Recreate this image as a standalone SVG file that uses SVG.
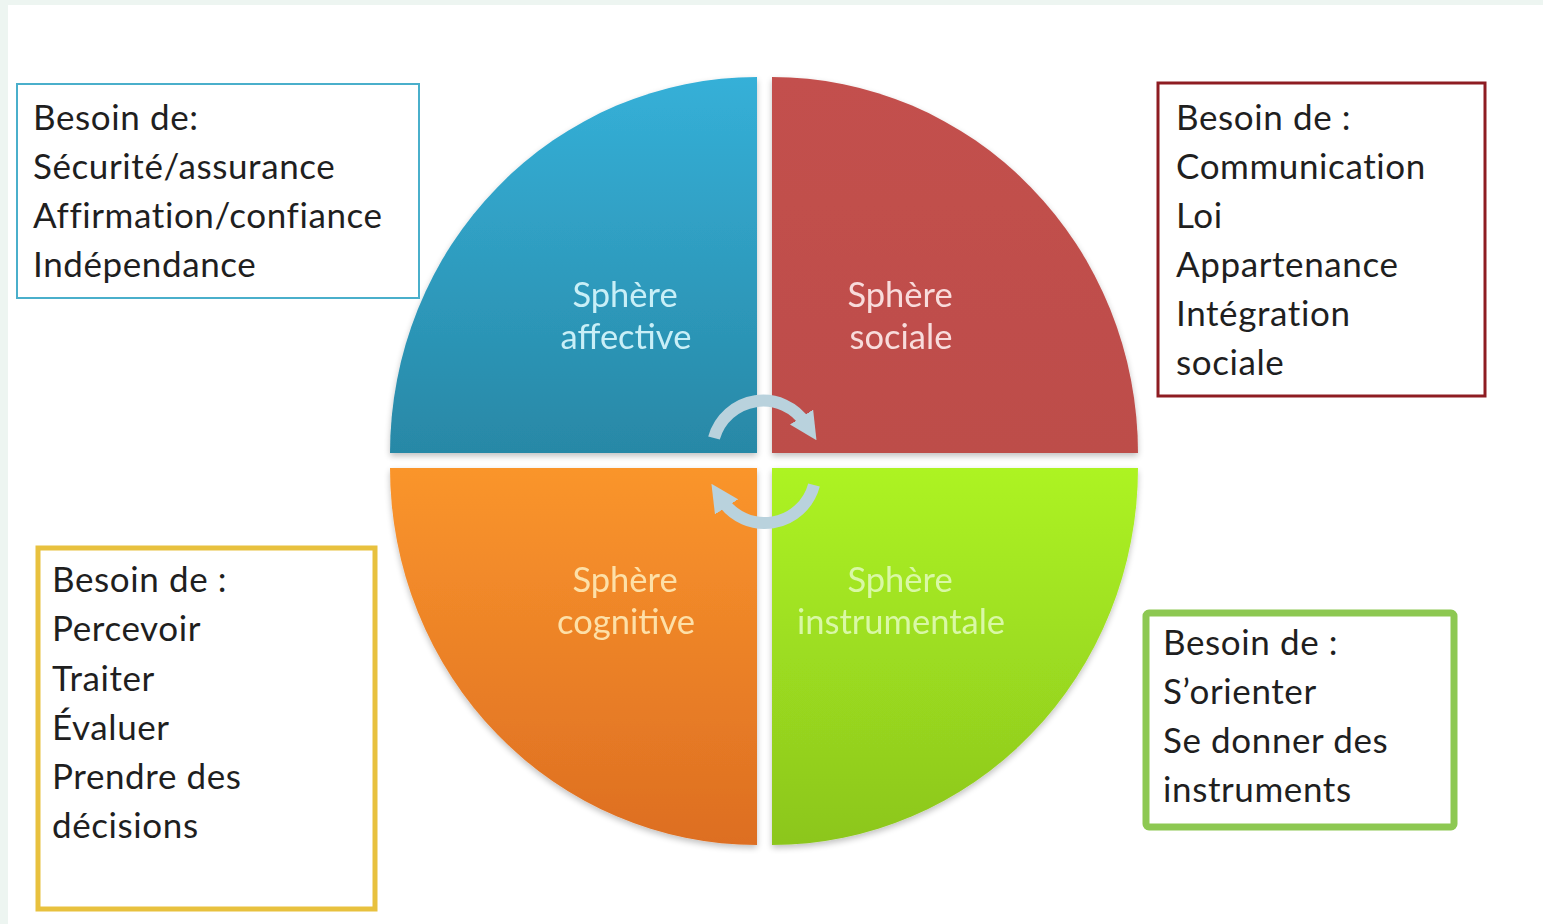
<svg xmlns="http://www.w3.org/2000/svg" width="1543" height="924" viewBox="0 0 1543 924">
<defs>
<linearGradient id="gBlue" x1="0" y1="0" x2="0" y2="1"><stop offset="0" stop-color="#35b0d8"/><stop offset="1" stop-color="#2888a6"/></linearGradient>
<linearGradient id="gRed" x1="0" y1="0" x2="0" y2="1"><stop offset="0" stop-color="#c3504d"/><stop offset="1" stop-color="#bd4d4a"/></linearGradient>
<linearGradient id="gOrange" x1="0" y1="0" x2="0" y2="1"><stop offset="0" stop-color="#fa952c"/><stop offset="1" stop-color="#dd6e22"/></linearGradient>
<linearGradient id="gGreen" x1="0" y1="0" x2="0" y2="1"><stop offset="0" stop-color="#adf322"/><stop offset="1" stop-color="#8cc61e"/></linearGradient>
<marker id="ah" viewBox="0 0 10 10" refX="3" refY="5" markerWidth="2.3" markerHeight="2.3" orient="auto" markerUnits="strokeWidth">
<path d="M0,0 L10,5 L0,10 Z" fill="#b9d2dd"/>
</marker>
<filter id="sh" x="-5%" y="-5%" width="110%" height="110%"><feGaussianBlur in="SourceAlpha" stdDeviation="3"/><feOffset dx="0" dy="3"/><feComponentTransfer><feFuncA type="linear" slope="0.25"/></feComponentTransfer><feMerge><feMergeNode/><feMergeNode in="SourceGraphic"/></feMerge></filter>
</defs>
<style>
.t{font-family:Lato,"Open Sans","Liberation Sans",sans-serif;font-size:35px;letter-spacing:0.6px;fill:#1f1f1f}
.s{font-family:Lato,"Open Sans","Liberation Sans",sans-serif;font-size:34.5px;text-anchor:middle}
.box{fill:#ffffff}
</style>
<rect x="0" y="0" width="1543" height="924" fill="#edf5f1"/>
<rect x="8" y="5" width="1535" height="919" fill="#ffffff"/>

<g id="affective" filter="url(#sh)">
<path d="M757 453 L390 453 A367 376 0 0 1 757 77 Z" fill="url(#gBlue)"/>
<text class="s" fill="#c9eff7" x="625" y="307">Sphère</text>
<text class="s" fill="#c9eff7" x="626" y="349">affective</text>
</g>
<g id="sociale" filter="url(#sh)">
<path d="M772 453 L772 77 A366 376 0 0 1 1138 453 Z" fill="url(#gRed)"/>
<text class="s" fill="#f8dcdc" x="900" y="307">Sphère</text>
<text class="s" fill="#f8dcdc" x="901" y="349">sociale</text>
</g>
<g id="cognitive" filter="url(#sh)">
<path d="M757 468 L757 845 A367 377 0 0 1 390 468 Z" fill="url(#gOrange)"/>
<text class="s" fill="#fde0a8" x="625" y="592">Sphère</text>
<text class="s" fill="#fde0a8" x="626" y="634">cognitive</text>
</g>
<g id="instrumentale" filter="url(#sh)">
<path d="M772 468 L1138 468 A366 377 0 0 1 772 845 Z" fill="url(#gGreen)"/>
<text class="s" fill="#d9f8a6" x="900" y="592">Sphère</text>
<text class="s" fill="#d9f8a6" x="901" y="634">instrumentale</text>
</g>

<g id="connectors" fill="none" stroke="#b9d2dd" stroke-width="12" stroke-linecap="butt">
<path d="M714 438 A51 51 0 0 1 806 424" marker-end="url(#ah)"/>
<path d="M814 485 A51 51 0 0 1 722 500" marker-end="url(#ah)"/>
</g>

<g id="box-affective">
<rect class="box" x="17" y="84" width="402" height="214" stroke="#4aafcb" stroke-width="2"/>
<text class="t" x="33" y="130">Besoin de:</text>
<text class="t" x="33" y="179">Sécurité/assurance</text>
<text class="t" x="33" y="228">Affirmation/confiance</text>
<text class="t" x="33" y="277">Indépendance</text>
</g>
<g id="box-sociale">
<rect class="box" x="1158" y="83" width="327" height="313" stroke="#8e1c22" stroke-width="3"/>
<text class="t" x="1176" y="130">Besoin de :</text>
<text class="t" x="1176" y="179">Communication</text>
<text class="t" x="1176" y="228">Loi</text>
<text class="t" x="1176" y="277">Appartenance</text>
<text class="t" x="1176" y="326">Intégration</text>
<text class="t" x="1176" y="375">sociale</text>
</g>
<g id="box-cognitive">
<rect class="box" x="38" y="548" width="337" height="361" stroke="#e8c13e" stroke-width="5"/>
<text class="t" x="52" y="592">Besoin de :</text>
<text class="t" x="52" y="641">Percevoir</text>
<text class="t" x="52" y="691">Traiter</text>
<text class="t" x="52" y="740">Évaluer</text>
<text class="t" x="52" y="789">Prendre des</text>
<text class="t" x="52" y="838">décisions</text>
</g>
<g id="box-instrumentale">
<rect class="box" x="1146" y="613" width="308" height="214" rx="3" stroke="#8dc852" stroke-width="7"/>
<text class="t" x="1163" y="655">Besoin de :</text>
<text class="t" x="1163" y="704">S’orienter</text>
<text class="t" x="1163" y="753">Se donner des</text>
<text class="t" x="1163" y="802">instruments</text>
</g>
</svg>
